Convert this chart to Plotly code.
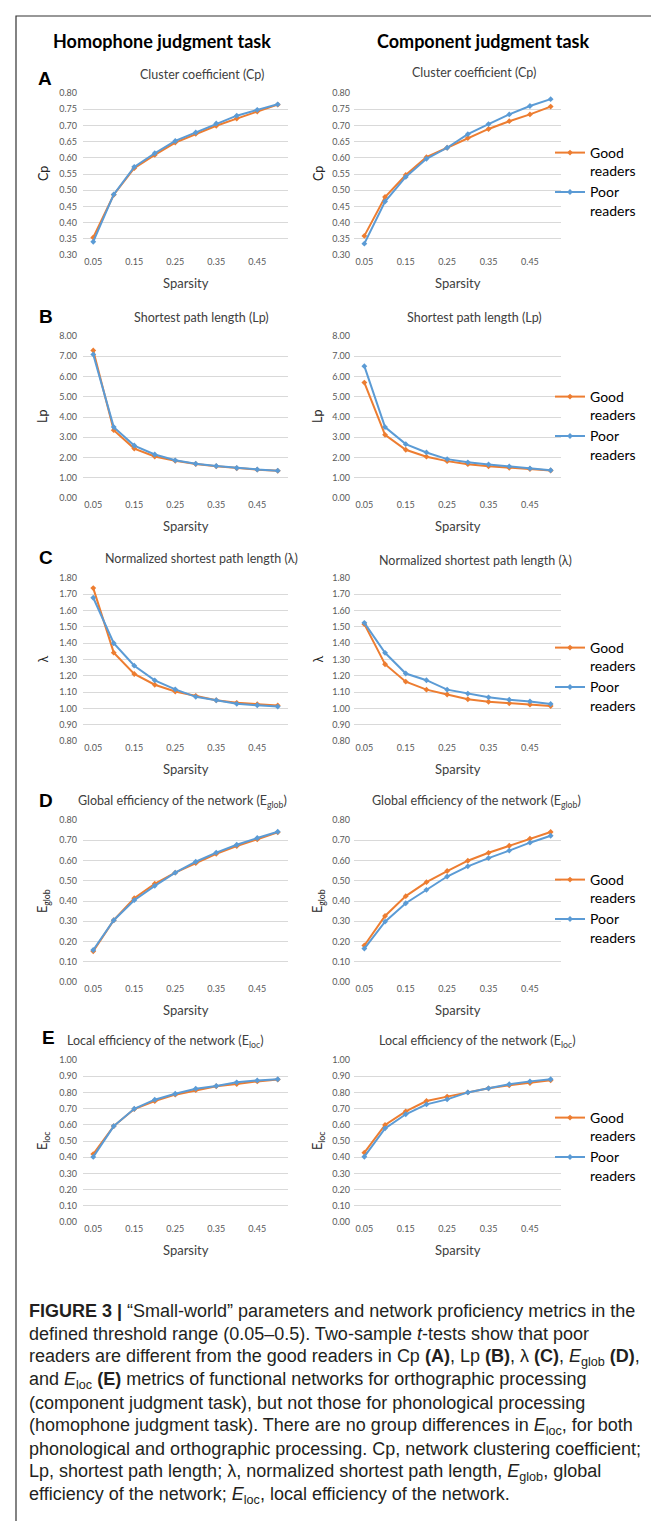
import plotly.graph_objects as go

W, H = 659, 1521

# ---------------- data ----------------
sparsity = [0.05, 0.10, 0.15, 0.20, 0.25, 0.30, 0.35, 0.40, 0.45, 0.50]
x_tick_vals = [0.05, 0.15, 0.25, 0.35, 0.45]
x_tick_text = ["0.05", "0.15", "0.25", "0.35", "0.45"]

# Homophone judgment task (left column)
hom_cp_good = [0.354, 0.486, 0.568, 0.609, 0.647, 0.674, 0.699, 0.721, 0.743, 0.764]
hom_cp_poor = [0.341, 0.487, 0.572, 0.614, 0.652, 0.678, 0.706, 0.730, 0.748, 0.765]
hom_lp_good = [7.29, 3.35, 2.44, 2.05, 1.84, 1.68, 1.57, 1.47, 1.40, 1.34]
hom_lp_poor = [7.09, 3.50, 2.59, 2.15, 1.86, 1.69, 1.58, 1.48, 1.41, 1.35]
hom_lam_good = [1.738, 1.342, 1.211, 1.145, 1.104, 1.077, 1.050, 1.034, 1.026, 1.018]
hom_lam_poor = [1.679, 1.400, 1.262, 1.172, 1.117, 1.071, 1.050, 1.028, 1.019, 1.011]
hom_eg_good = [0.152, 0.305, 0.414, 0.485, 0.540, 0.587, 0.633, 0.671, 0.704, 0.739]
hom_eg_poor = [0.158, 0.305, 0.404, 0.475, 0.540, 0.594, 0.639, 0.678, 0.711, 0.742]
hom_el_good = [0.419, 0.592, 0.697, 0.746, 0.786, 0.814, 0.838, 0.852, 0.868, 0.879]
hom_el_poor = [0.402, 0.592, 0.699, 0.755, 0.792, 0.823, 0.840, 0.862, 0.874, 0.881]

# Component judgment task (right column)
com_cp_good = [0.359, 0.479, 0.547, 0.602, 0.631, 0.661, 0.689, 0.713, 0.734, 0.758]
com_cp_poor = [0.335, 0.465, 0.541, 0.597, 0.631, 0.673, 0.704, 0.734, 0.760, 0.781]
com_lp_good = [5.70, 3.12, 2.38, 2.04, 1.82, 1.67, 1.57, 1.49, 1.43, 1.36]
com_lp_poor = [6.51, 3.50, 2.66, 2.25, 1.92, 1.76, 1.66, 1.56, 1.46, 1.37]
com_lam_good = [1.517, 1.271, 1.164, 1.115, 1.085, 1.056, 1.041, 1.031, 1.023, 1.014]
com_lam_poor = [1.525, 1.341, 1.214, 1.173, 1.115, 1.091, 1.068, 1.053, 1.043, 1.027]
com_eg_good = [0.180, 0.326, 0.424, 0.493, 0.548, 0.599, 0.638, 0.673, 0.708, 0.741]
com_eg_poor = [0.165, 0.298, 0.389, 0.455, 0.521, 0.571, 0.612, 0.649, 0.688, 0.722]
com_el_good = [0.428, 0.599, 0.683, 0.747, 0.774, 0.800, 0.825, 0.844, 0.858, 0.875]
com_el_poor = [0.403, 0.578, 0.665, 0.726, 0.757, 0.800, 0.825, 0.850, 0.868, 0.881]

column_titles = ["Homophone judgment task", "Component judgment task"]
panel_letters = ["A", "B", "C", "D", "E"]
panel_titles = ["Cluster coefficient (Cp)", "Shortest path length (Lp)",
                "Normalized shortest path length (λ)",
                "Global efficiency of the network (E<sub>glob</sub>)",
                "Local efficiency of the network (E<sub>loc</sub>)"]
y_titles = ["Cp", "Lp", "λ", "E<sub>glob</sub>", "E<sub>loc</sub>"]
y_ranges = [[0.30, 0.80], [0.0, 8.0], [0.80, 1.80], [0.0, 0.80], [0.0, 1.0]]
y_dticks = [0.05, 1.0, 0.10, 0.10, 0.10]
series_names = ["Good<br>readers", "Poor<br>readers"]

left_data = [(hom_cp_good, hom_cp_poor), (hom_lp_good, hom_lp_poor),
             (hom_lam_good, hom_lam_poor), (hom_eg_good, hom_eg_poor),
             (hom_el_good, hom_el_poor)]
right_data = [(com_cp_good, com_cp_poor), (com_lp_good, com_lp_poor),
              (com_lam_good, com_lam_poor), (com_eg_good, com_eg_poor),
              (com_el_good, com_el_poor)]

caption_lines = [
    "<b>FIGURE 3 |</b> “Small-world” parameters and network proficiency metrics in the",
    "defined threshold range (0.05–0.5). Two-sample <i>t</i>-tests show that poor",
    "readers are different from the good readers in Cp <b>(A)</b>, Lp <b>(B)</b>, λ <b>(C)</b>, <i>E</i><sub>glob</sub> <b>(D)</b>,",
    "and <i>E</i><sub>loc</sub> <b>(E)</b> metrics of functional networks for orthographic processing",
    "(component judgment task), but not those for phonological processing",
    "(homophone judgment task). There are no group differences in <i>E</i><sub>loc</sub>, for both",
    "phonological and orthographic processing. Cp, network clustering coefficient;",
    "Lp, shortest path length; λ, normalized shortest path length, <i>E</i><sub>glob</sub>, global",
    "efficiency of the network; <i>E</i><sub>loc</sub>, local efficiency of the network.",
]

# ---------------- layout helpers ----------------
ORANGE = "#ED7D31"
BLUE = "#5B9BD5"
GRID = "#D9D9D9"
TXT = "#595959"


def px(x):
    return x / W


def py(y):
    return 1 - y / H


col_x = [(75, 280), (346, 553)]
row_y = [(85, 247), (328, 490), (570, 733), (812, 974), (1052, 1214)]
title_pos = [[(194, 66), (466, 65)], [(193, 309), (466, 309)], [(193, 551), (467, 552)],
             [(174, 793), (468, 793)], [(157, 1033), (469, 1033)]]
letter_pos = [(37, 71), (38, 308), (38, 549), (38, 792), (40, 1029)]
ytitle_x = [35, 310]
legend_top = [129, 373, 624, 856, 1094]

fig = go.Figure()
layout_axes = {}
annotations = []

idx = 0
for r in range(5):
    for c in range(2):
        idx += 1
        xa = "x" if idx == 1 else f"x{idx}"
        ya = "y" if idx == 1 else f"y{idx}"
        data = left_data[r] if c == 0 else right_data[r]
        leg = None
        if c == 1:
            leg = "legend" if r == 0 else f"legend{r + 1}"
        for k, (vals, color) in enumerate(zip(data, [ORANGE, BLUE])):
            kw = dict(legend=leg) if leg else {}
            fig.add_trace(go.Scatter(
                x=sparsity, y=vals, mode="lines+markers",
                name=series_names[k],
                line=dict(color=color, width=2),
                marker=dict(symbol="diamond", size=4.5, color=color),
                xaxis=xa, yaxis=ya, showlegend=(c == 1), **kw))
        x0, x1 = col_x[c]
        y0, y1 = row_y[r]
        layout_axes["xaxis" if idx == 1 else f"xaxis{idx}"] = dict(
            domain=[px(x0), px(x1)], range=[0.025, 0.525], anchor=ya,
            tickvals=x_tick_vals, ticktext=x_tick_text, showgrid=False,
            zeroline=False, showline=False, ticks="",
            tickfont=dict(family="Lato", size=9, color=TXT), automargin=False)
        layout_axes["yaxis" if idx == 1 else f"yaxis{idx}"] = dict(
            domain=[py(y1), py(y0)], range=y_ranges[r], anchor=xa,
            dtick=y_dticks[r], tick0=0, tickformat=".2f", showgrid=True,
            gridcolor=GRID, gridwidth=1, zeroline=False, showline=False,
            ticks="", ticklabelstandoff=5 if c == 0 else 3,
            tickfont=dict(family="Lato", size=9, color=TXT), automargin=False)
        # panel title
        tx, ty = title_pos[r][c]
        annotations.append(dict(text=panel_titles[r], x=px(tx), y=py(ty), xref="paper",
                                yref="paper", showarrow=False, xanchor="center",
                                yanchor="middle",
                                font=dict(family="Lato", size=12.5, color="#404040")))
        # y title
        annotations.append(dict(text=y_titles[r], x=px(ytitle_x[c]), y=py((y0 + y1) / 2),
                                xref="paper", yref="paper", showarrow=False,
                                textangle=-90, xanchor="center", yanchor="middle",
                                font=dict(family="Lato", size=12.5, color="#262626")))
        # x title
        annotations.append(dict(text="Sparsity", x=px((x0 + x1) / 2), y=py(y1 + 28),
                                xref="paper", yref="paper", showarrow=False,
                                xanchor="center", yanchor="middle",
                                font=dict(family="Lato", size=13, color="#404040")))

# panel letters
for r in range(5):
    lx, ly = letter_pos[r]
    annotations.append(dict(text=f"<b>{panel_letters[r]}</b>", x=px(lx), y=py(ly),
                            xref="paper", yref="paper", showarrow=False,
                            xanchor="center", yanchor="middle",
                            font=dict(family="Liberation Sans", size=19, color="#000")))

# column titles
for c, cx in enumerate([154, 475]):
    annotations.append(dict(text=f"<b>{column_titles[c]}</b>", x=px(cx), y=py(33),
                            xref="paper", yref="paper", showarrow=False,
                            xanchor="center", yanchor="middle",
                            font=dict(family="Lato", size=18, color="#000")))

# caption
for i, line in enumerate(caption_lines):
    annotations.append(dict(text=line, x=px(19), y=py(1303 + 23 * i), xref="paper",
                            yref="paper", showarrow=False, xanchor="left",
                            yanchor="middle", align="left",
                            font=dict(family="Liberation Sans", size=18, color="#231F20")))

legends = {}
for r in range(5):
    key = "legend" if r == 0 else f"legend{r + 1}"
    legends[key] = dict(x=px(542), y=py(legend_top[r]), xanchor="left", yanchor="top",
                        bgcolor="rgba(0,0,0,0)", valign="top", tracegroupgap=0,
                        font=dict(family="Lato", size=14, color="#000"))

fig.update_layout(
    width=W, height=H, margin=dict(l=0, r=0, t=0, b=0),
    paper_bgcolor="white", plot_bgcolor="white",
    annotations=annotations,
    shapes=[dict(type="rect", xref="paper", yref="paper", x0=px(8), x1=px(652),
                 y0=py(8), y1=py(1515), line=dict(color="#333", width=1.2))],
    **layout_axes, **legends)

fig.write_html("out.html")
